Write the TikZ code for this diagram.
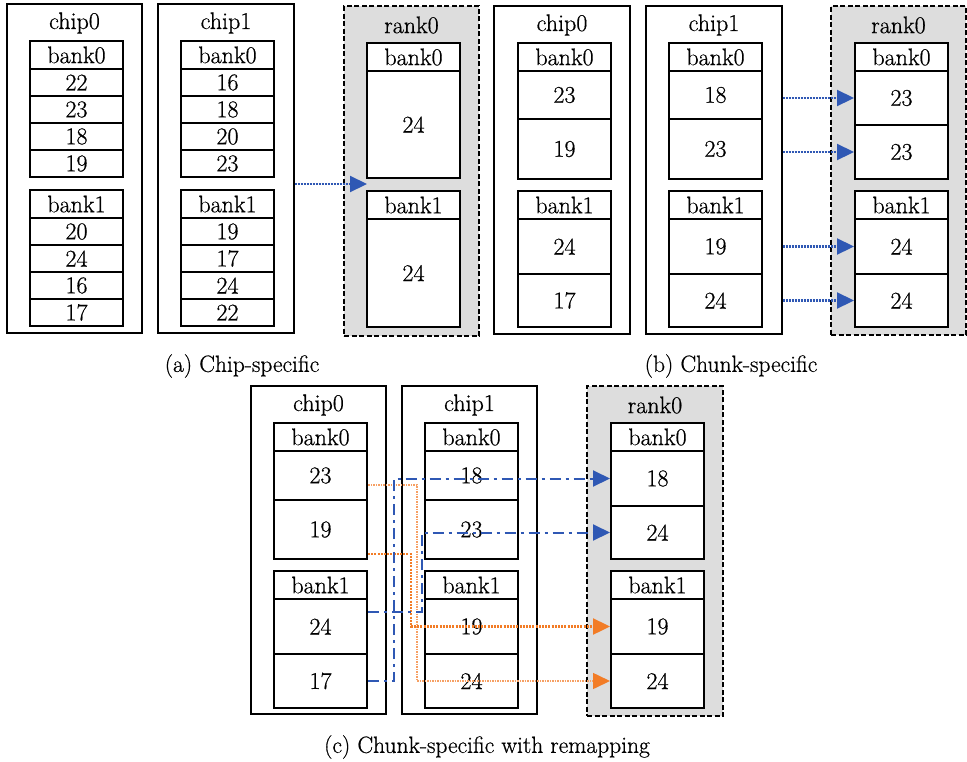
\documentclass[tikz,border=0pt]{standalone}
\usepackage{fontspec}
\setmainfont{Latin Modern Roman}[FakeBold=0.6]
\usepackage{tikz}
\usetikzlibrary{arrows.meta,positioning}
\definecolor{rankgray}{RGB}{221,221,221}
\definecolor{movblue}{RGB}{47,88,180}
\definecolor{movorange}{RGB}{242,124,38}
\definecolor{lightorange}{RGB}{246,160,100}
\tikzset{
    every node/.style={font=\fontsize{24}{28}\selectfont},
    chipbox/.style={draw, line width=1.3pt, inner sep=0pt},
    rankbox/.style={draw, dash pattern=on 5pt off 2.5pt, fill=rankgray, line width=1.3pt, inner sep=0pt},
    headcell/.style={draw, fill=white, line width=1.6pt, minimum width=93pt, minimum height=28pt, inner sep=0pt},
    rowcell/.style={draw, fill=white, line width=2pt, minimum width=93pt, inner sep=0pt},
    caption/.style={font=\fontsize{23.5}{27}\selectfont},
    tip/.style={-{Triangle[length=17pt,width=16pt,color=#1]}},
    chunk/.style={draw=movblue, dash pattern=on 2pt off 1pt, line width=2.2pt, tip=movblue},
    remapblue/.style={draw=movblue, line width=2pt, dash pattern=on 11pt off 5pt on 3pt off 5pt, tip=movblue},
    remaporange/.style={draw=movorange, dash pattern=on 2pt off 1.2pt, line width=2.4pt, tip=movorange},
    remaplight/.style={draw=lightorange, dash pattern=on 1.5pt off 1pt, line width=1.6pt, tip=movorange}
}
% name, left, top, right, bottom, title
\newcommand{\chip}[6] {
	\node[chipbox, minimum width={#4-#2}, minimum height={#5-#3}] (#1) at ({(#2+#4)/2},{(#3+#5)/2}) {};
	\node (#1t) at ({(#2+#4)/2},#3+19) {#6};
}
\newcommand{\rank}[6] {
	\node[rankbox, minimum width={#4-#2}, minimum height={#5-#3}] (#1) at ({(#2+#4)/2},{(#3+#5)/2}) {};
	\node (#1t) at ({(#2+#4)/2},#3+19) {#6};
}
% name, left, top, text
\newcommand{\headcell}[4] {
	\node[headcell] (#1) at (#2+46.5,#3+14) {#4};
}
% name, left, top, height, text
\newcommand{\rowcell}[5] {
	\node[rowcell, minimum height=#4] (#1) at (#2+46.5,{#3+#4/2}) {#5};
}

\begin{document}
\begin{tikzpicture}[x=1pt, y=-1pt]
		\useasboundingbox (0,0) rectangle (967,761);

		% (a) Chip-specific
		\chip{aC0}{7}{4}{142}{333}{chip0}
		\chip{aC1}{158}{4}{294}{333}{chip1}
		\rank{aR0}{344}{6}{479}{336}{rank0}

		\headcell{aC0b0}{30}{41}{bank0}
		\foreach \v [count=\i] in {22,23,18,19} {\rowcell{aC0b0r\i}{30}{42+27*\i}{27}{\v}}
		\headcell{aC0b1}{30}{190}{bank1}
		\foreach \v [count=\i] in {20,24,16,17} {\rowcell{aC0b1r\i}{30}{191+27*\i}{27}{\v}}

		\headcell{aC1b0}{181}{41}{bank0}
		\foreach \v [count=\i] in {16,18,20,23} {\rowcell{aC1b0r\i}{181}{42+27*\i}{27}{\v}}
		\headcell{aC1b1}{181}{190}{bank1}
		\foreach \v [count=\i] in {19,17,24,22} {\rowcell{aC1b1r\i}{181}{191+27*\i}{27}{\v}}

		\headcell{aR0b0}{367}{43}{bank0}
		\rowcell{aR0b0r1}{367}{71}{107}{24}
		\headcell{aR0b1}{367}{191}{bank1}
		\rowcell{aR0b1r1}{367}{219}{108}{24}

		\coordinate (aTip) at (367,184);
		\draw[chunk] (aC1.east |- aTip) -- (aTip);
		\node[caption] (capA) at (242,366) {(a) Chip-specific};

		% (b) Chunk-specific
		\chip{bC0}{494}{6}{630}{334}{chip0}
		\chip{bC1}{646}{6}{782}{334}{chip1}
		\rank{bR0}{831}{6}{966}{335}{rank0}

		\headcell{bC0b0}{518}{43}{bank0}
		\rowcell{bC0b0r1}{518}{71}{48}{23}
		\rowcell{bC0b0r2}{518}{119}{60}{19}
		\headcell{bC0b1}{518}{191}{bank1}
		\rowcell{bC0b1r1}{518}{219}{55}{24}
		\rowcell{bC0b1r2}{518}{274}{53}{17}

		\headcell{bC1b0}{669}{43}{bank0}
		\rowcell{bC1b0r1}{669}{71}{48}{18}
		\rowcell{bC1b0r2}{669}{119}{60}{23}
		\headcell{bC1b1}{669}{191}{bank1}
		\rowcell{bC1b1r1}{669}{219}{55}{19}
		\rowcell{bC1b1r2}{669}{274}{53}{24}

		\headcell{bR0b0}{855}{43}{bank0}
		\rowcell{bR0b0r1}{855}{71}{54}{23}
		\rowcell{bR0b0r2}{855}{125}{54}{23}
		\headcell{bR0b1}{855}{191}{bank1}
		\rowcell{bR0b1r1}{855}{219}{55}{24}
		\rowcell{bR0b1r2}{855}{274}{53}{24}

		\foreach \r in {b0r1,b0r2,b1r1,b1r2} {
			\draw[chunk] (bC1.east |- bR0\r.west) -- (bR0\r.west);
		}
		\node[caption] (capB) at (731,366) {(b) Chunk-specific};

		% (c) Chunk-specific with remapping
		\chip{cC0}{251}{386}{386}{714}{chip0}
		\chip{cC1}{402}{386}{537}{714}{chip1}
		\rank{cR0}{587}{386}{723}{716}{rank0}

		\headcell{cC0b0}{274}{423}{bank0}
		\rowcell{cC0b0r1}{274}{451}{49}{23}
		\rowcell{cC0b0r2}{274}{500}{59}{19}
		\headcell{cC0b1}{274}{571}{bank1}
		\rowcell{cC0b1r1}{274}{599}{55}{24}
		\rowcell{cC0b1r2}{274}{654}{54}{17}

		\headcell{cC1b0}{425}{423}{bank0}
		\rowcell{cC1b0r1}{425}{451}{49}{18}
		\rowcell{cC1b0r2}{425}{500}{59}{23}
		\headcell{cC1b1}{425}{571}{bank1}
		\rowcell{cC1b1r1}{425}{599}{55}{19}
		\rowcell{cC1b1r2}{425}{654}{54}{24}

		\headcell{cR0b0}{611}{423}{bank0}
		\rowcell{cR0b0r1}{611}{451}{55}{18}
		\rowcell{cR0b0r2}{611}{506}{53}{24}
		\headcell{cR0b1}{611}{571}{bank1}
		\rowcell{cR0b1r1}{611}{599}{55}{19}
		\rowcell{cR0b1r2}{611}{654}{54}{24}

		% remapped moves
		\coordinate (cJa) at (422,0);
		\coordinate (cJb) at (394,0);
		\coordinate (cJc) at (411,0);
		\coordinate (cJd) at (417,0);
		\draw[remaplight] ([yshift=-9.5pt]cC0b0r1.east) -| (cJd |- cR0b1r2.west) -- (cR0b1r2.west);
		\draw[remaporange] ([yshift=-24.5pt]cC0b0r2.east) -| (cJc |- cR0b1r1.west) -- (cR0b1r1.west);
		\draw[remapblue] ([yshift=14.5pt]cC0b1r1.east) -| (cJa |- cR0b0r2.west) -- (cR0b0r2.west);
		\draw[remapblue] (cC0b1r2.east) -| (cJb |- cR0b0r1.west) -- (cR0b0r1.west);
		\node[caption] (capC) at (487,747) {(c) Chunk-specific with remapping};

\end{tikzpicture}
\end{document}
